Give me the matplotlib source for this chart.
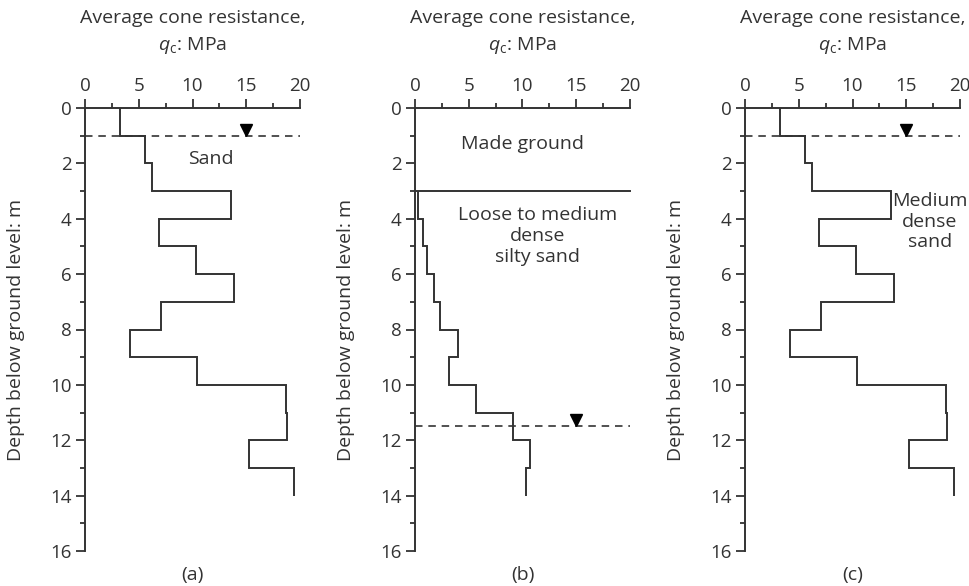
import numpy as np
import matplotlib
matplotlib.use('Agg')
import matplotlib.pyplot as plt
from matplotlib.ticker import MultipleLocator

plt.rcParams['font.family'] = ['Open Sans', 'DejaVu Sans']
plt.rcParams['mathtext.fontset'] = 'custom'
plt.rcParams['mathtext.rm'] = 'Open Sans'
plt.rcParams['mathtext.it'] = 'Open Sans:italic'

# layer boundaries (m) and average cone resistance per layer (MPa)
edges_a = [0, 1, 2, 3, 4, 5, 6, 7, 8, 9, 10, 11, 12, 13, 14]
qc_a = [3.3, 5.6, 6.2, 13.6, 6.9, 10.3, 13.9, 7.1, 4.2, 10.4, 18.7, 18.8, 15.3, 19.4]

edges_b = [3, 4, 5, 6, 7, 8, 9, 10, 11, 12, 13, 14]
qc_b = [0.25, 0.7, 1.15, 1.8, 2.35, 4.0, 3.2, 5.65, 9.1, 10.7, 10.35]

edges_c = edges_a
qc_c = qc_a

water_table = [1.0, 11.5, 1.0]
made_ground_base = 3.0
captions = ['(a)', '(b)', '(c)']

ink = '#333333'
fs = 14

fig = plt.figure(figsize=(9.7, 5.86), dpi=100)
lefts = [85 / 970, 415 / 970, 745 / 970]
w = 215 / 970
bot = 1 - 551 / 586
h = 443 / 586

profiles = [(edges_a, qc_a), (edges_b, qc_b), (edges_c, qc_c)]
for i, (edges, qc) in enumerate(profiles):
    ax = fig.add_axes([lefts[i], bot, w, h])
    ax.stairs(qc, edges, orientation='horizontal', baseline=None,
              color=ink, lw=1.4, clip_on=False)

    wt = water_table[i]
    ax.plot([0, 20], [wt, wt], ls=(0, (4.5, 3.5)), color=ink, lw=1.2, clip_on=False)
    ax.plot(15, wt - 0.22, marker='v', ms=9, color='black', clip_on=False)

    ax.set_xlim(0, 20)
    ax.set_ylim(16, 0)
    ax.xaxis.set_ticks_position('top')
    ax.xaxis.set_major_locator(MultipleLocator(5))
    ax.xaxis.set_minor_locator(MultipleLocator(2.5))
    ax.yaxis.set_major_locator(MultipleLocator(2))
    ax.yaxis.set_minor_locator(MultipleLocator(1))
    for s in ['right', 'bottom']:
        ax.spines[s].set_visible(False)
    for s in ['left', 'top']:
        ax.spines[s].set_color(ink)
        ax.spines[s].set_linewidth(1.4)
    ax.tick_params(which='major', direction='out', length=6.5, width=1.3,
                   color=ink, labelsize=13.5, labelcolor=ink, pad=3)
    ax.tick_params(which='minor', direction='out', length=3.5, width=1.3, color=ink)

    ax.set_ylabel('Depth below ground level: m', fontsize=fs, color=ink)
    ax.yaxis.set_label_coords(-0.28, 0.5)
    ax.text(0.5, 1.203, 'Average cone resistance,', transform=ax.transAxes,
            ha='center', va='center', fontsize=fs, color=ink)
    ax.text(0.5, 1.142, r'$q_\mathrm{c}$: MPa', transform=ax.transAxes,
            ha='center', va='center', fontsize=fs, color=ink)
    ax.text(0.5, -0.054, captions[i], transform=ax.transAxes,
            ha='center', va='center', fontsize=fs, color=ink)

    if i == 0:
        ax.text(11.7, 1.85, 'Sand', ha='center', va='center', fontsize=fs, color=ink)
    elif i == 1:
        ax.plot([0, 20], [made_ground_base, made_ground_base], color=ink, lw=1.4,
                clip_on=False)
        ax.text(10.0, 1.3, 'Made ground', ha='center', va='center',
                fontsize=fs, color=ink)
        ax.text(11.4, 4.62, 'Loose to medium\ndense\nsilty sand', ha='center',
                va='center', fontsize=fs, color=ink, linespacing=1.2)
    else:
        ax.text(17.2, 4.1, 'Medium\ndense\nsand', ha='center', va='center',
                fontsize=fs, color=ink, linespacing=1.15)

fig.savefig('out.png', dpi=100)
